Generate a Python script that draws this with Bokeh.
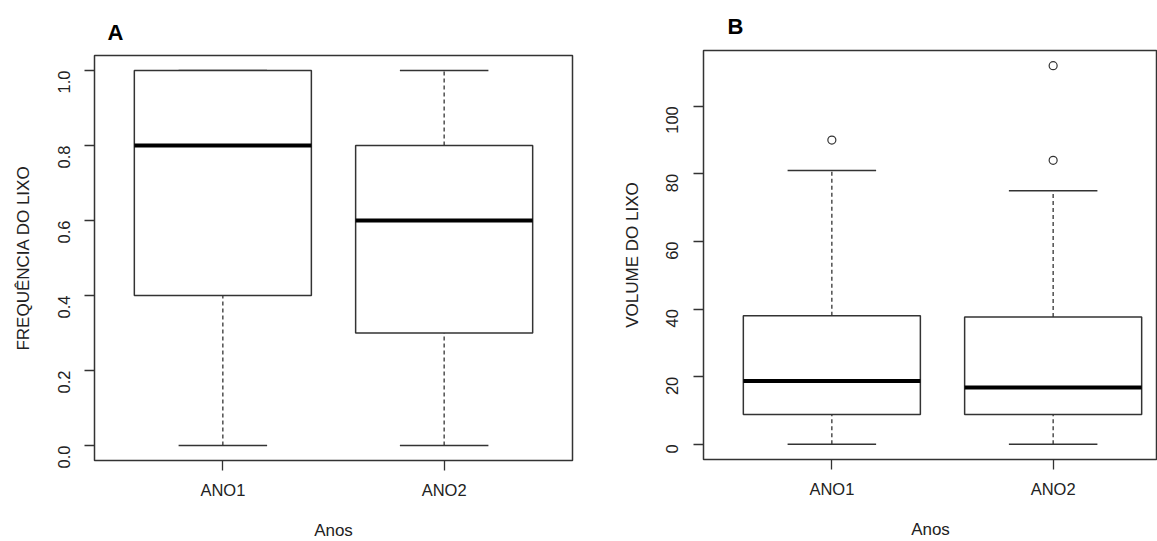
import math
from bokeh.plotting import figure
from bokeh.layouts import row, column
from bokeh.models import FixedTicker, PrintfTickFormatter, Range1d
from bokeh.embed import file_html
from bokeh.resources import INLINE

# ---------------- data ----------------
categories = ["ANO1", "ANO2"]
positions = [1, 2]

# Panel A: FREQUÊNCIA DO LIXO
freq_min = [0.0, 0.0]
freq_q1 = [0.4, 0.3]
freq_med = [0.8, 0.6]
freq_q3 = [1.0, 0.8]
freq_max = [1.0, 1.0]
freq_out_pos = []
freq_out_val = []
freq_ticks = [0.0, 0.2, 0.4, 0.6, 0.8, 1.0]

# Panel B: VOLUME DO LIXO
vol_min = [0, 0]
vol_q1 = [8.8, 8.8]
vol_med = [18.7, 16.8]
vol_q3 = [38.0, 37.7]
vol_max = [81, 75]
vol_out_pos = [1, 2, 2]
vol_out_val = [90, 84, 112]
vol_ticks = [0, 20, 40, 60, 80, 100]

FONT = "Liberation Sans"
TXT = "#222222"
LINE = "#333333"
BOX_W = 0.8
CAP_W = 0.4
PX_PER_UNIT = 478 / 2.16


def make_panel(letter, letter_offset, ttl_stand, ylabel, ymin, yq1, ymed, yq3, ymax,
               out_pos, out_val, ticks, fmt, left, top, fheight, bottom,
               fwidth, right):
    allv = list(ymin) + list(ymax) + list(out_val)
    lo, hi = min(allv), max(allv)
    pad = 0.04 * (hi - lo)
    x0 = 0.5 - 0.04 * len(positions)
    x1 = x0 + fwidth / PX_PER_UNIT
    p = figure(frame_width=fwidth, frame_height=fheight,
               min_border_left=left, min_border_right=right,
               min_border_top=top, min_border_bottom=bottom,
               x_range=Range1d(x0, x1), y_range=Range1d(lo - pad, hi + pad),
               output_backend="svg", toolbar_location=None, title=letter)
    p.title.text_font = FONT
    p.title.text_font_size = "22px"
    p.title.text_font_style = "bold"
    p.title.text_color = "#000000"
    p.title.align = "left"
    p.title.offset = letter_offset
    p.title.standoff = ttl_stand
    p.background_fill_color = "white"
    p.border_fill_color = "white"
    p.outline_line_color = LINE
    p.outline_line_width = 1.5
    p.xgrid.visible = False
    p.ygrid.visible = False

    for ax in (p.xaxis[0], p.yaxis[0]):
        ax.axis_line_color = None
        ax.major_tick_line_color = LINE
        ax.major_tick_line_width = 1.3
        ax.major_tick_out = 10
        ax.major_tick_in = 0
        ax.minor_tick_line_color = None
        ax.major_label_text_font = FONT
        ax.major_label_text_font_size = "16.5px"
        ax.major_label_text_color = TXT
        ax.axis_label_text_font = FONT
        ax.axis_label_text_font_size = "17px"
        ax.axis_label_text_font_style = "normal"
        ax.axis_label_text_color = TXT

    p.xaxis.ticker = FixedTicker(ticks=positions)
    p.xaxis.major_label_overrides = {pos: c for pos, c in zip(positions, categories)}
    p.xaxis.axis_label = "Anos"
    p.xaxis.major_label_standoff = 10
    p.xaxis.axis_label_standoff = 19

    p.yaxis.ticker = FixedTicker(ticks=ticks)
    p.yaxis.formatter = PrintfTickFormatter(format=fmt)
    p.yaxis.major_label_orientation = math.pi / 2
    p.yaxis.axis_label = ylabel
    p.yaxis.major_label_standoff = 21
    p.yaxis.axis_label_standoff = 16

    # whiskers (dashed)
    p.segment(x0=positions, y0=yq3, x1=positions, y1=ymax,
              line_color=LINE, line_width=1.3, line_dash="4 3")
    p.segment(x0=positions, y0=ymin, x1=positions, y1=yq1,
              line_color=LINE, line_width=1.3, line_dash="4 3")
    # caps
    cl = [x - CAP_W / 2 for x in positions]
    cr = [x + CAP_W / 2 for x in positions]
    p.segment(x0=cl, y0=ymax, x1=cr, y1=ymax, line_color=LINE, line_width=1.5)
    p.segment(x0=cl, y0=ymin, x1=cr, y1=ymin, line_color=LINE, line_width=1.5)
    # boxes
    p.vbar(x=positions, width=BOX_W, bottom=yq1, top=yq3,
           fill_color="white", line_color=LINE, line_width=1.5)
    # medians
    ml = [x - BOX_W / 2 for x in positions]
    mr = [x + BOX_W / 2 for x in positions]
    p.segment(x0=ml, y0=ymed, x1=mr, y1=ymed, line_color="#000000", line_width=4)
    # outliers
    if out_val:
        p.scatter(x=out_pos, y=out_val, marker="circle", size=8,
                  fill_color="white", line_color=LINE, line_width=1.2)
    return p


pA = make_panel("A", 13, 21, "FREQUÊNCIA DO LIXO", freq_min, freq_q1, freq_med,
                freq_q3, freq_max, freq_out_pos, freq_out_val, freq_ticks, "%.1f",
                left=94, top=55, fheight=405, bottom=81, fwidth=478, right=18)
pB = make_panel("B", 24, 23, "VOLUME DO LIXO", vol_min, vol_q1, vol_med,
                vol_q3, vol_max, vol_out_pos, vol_out_val, vol_ticks, "%d",
                left=113, top=50, fheight=409, bottom=82, fwidth=454, right=0)

layout = row(column(pA), column(pB))
open("out.html", "w").write(file_html(layout, INLINE))
